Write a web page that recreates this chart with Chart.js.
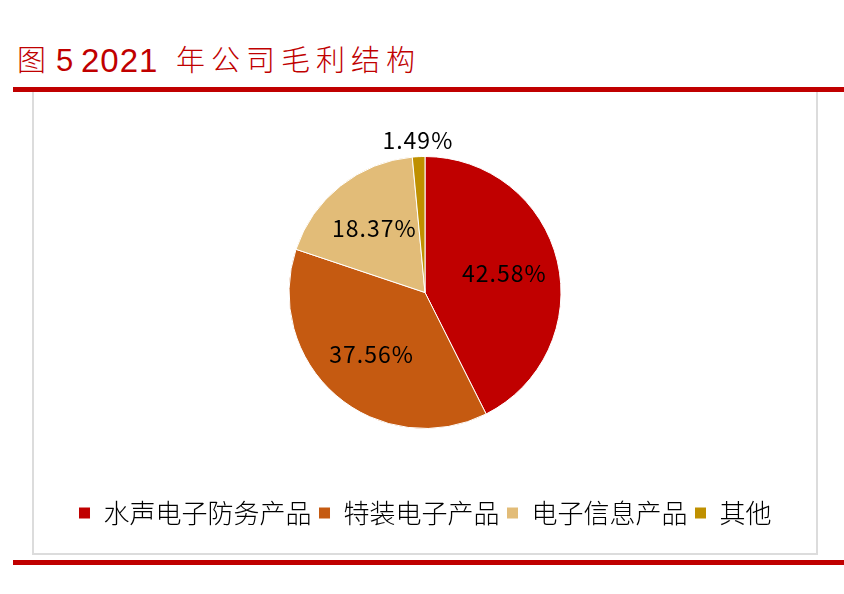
<!DOCTYPE html>
<html><head><meta charset="utf-8">
<script src="https://cdn.jsdelivr.net/npm/chart.js@4.4.0/dist/chart.umd.min.js"></script>
<style>
html,body{margin:0;padding:0;background:#fff;width:844px;height:594px;overflow:hidden;}
.t{position:absolute;color:#C00000;white-space:nowrap;line-height:1;}
#redTop{position:absolute;left:13px;top:87px;width:831px;height:5px;background:#C00000;}
#redBot{position:absolute;left:13px;top:560px;width:831px;height:5px;background:#C00000;}
#box{position:absolute;left:32px;top:92px;width:782px;height:461px;border:2px solid #dcdcdc;border-top:none;}
#wrap{position:absolute;left:34px;top:92px;width:782px;height:461px;}
</style></head>
<body>
<div class="t" style="left:17px;top:44px;font-family:'Noto Sans CJK SC';font-size:29px;font-weight:300;">图</div>
<div class="t" style="left:56px;top:45px;font-family:'Liberation Sans';font-size:31px;">5</div>
<div class="t" style="left:81px;top:44px;font-family:'Liberation Sans';font-size:33px;letter-spacing:1px;">2021</div>
<div class="t" style="left:176px;top:44px;font-family:'Noto Sans CJK SC';font-size:29px;font-weight:300;letter-spacing:6px;">年公司毛利结构</div>
<div id="redTop"></div>
<div id="box"></div>
<div id="redBot"></div>
<div id="wrap"><canvas id="c"></canvas></div>
<script>
const categories = ['水声电子防务产品','特装电子产品','电子信息产品','其他'];
const values = [42.58, 37.56, 18.37, 1.49];
const labels = ['42.58%','37.56%','18.37%','1.49%'];
const colors = ['#C00000','#C55A11','#E2BC78','#BF9000'];

const labelPlugin = {
  id:'sliceLabels',
  afterDatasetsDraw(chart){
    const ctx = chart.ctx;
    const meta = chart.getDatasetMeta(0);
    ctx.save();
    ctx.font = '23px "Noto Sans CJK SC"';
    ctx.fillStyle = '#000';
    ctx.textAlign = 'center';
    ctx.textBaseline = 'middle';
    try{ctx.letterSpacing='1px';}catch(e){}
    meta.data.forEach((arc,i)=>{
      const p = arc.getProps(['x','y','startAngle','endAngle','outerRadius'],true);
      const mid = (p.startAngle+p.endAngle)/2;
      const f = values[i] < 5 ? 1.12 : 0.6;
      const r = p.outerRadius*f;
      ctx.fillText(labels[i], p.x + Math.cos(mid)*r, p.y + Math.sin(mid)*r);
    });
    ctx.restore();
  }
};

new Chart(document.getElementById('c'),{
  type:'pie',
  data:{labels:categories,datasets:[{data:values,backgroundColor:colors,borderColor:'#ffffff',borderWidth:1}]},
  options:{
    responsive:true,maintainAspectRatio:false,animation:false,
    radius:136,
    layout:{padding:{top:0,bottom:17,left:0,right:0}},
    plugins:{
      tooltip:{enabled:false},
      legend:{position:'bottom',
        labels:{boxWidth:12,boxHeight:12,padding:7,color:'#000',
          font:{family:'"Noto Sans CJK SC"',size:26,weight:300}}}
    }
  },
  plugins:[labelPlugin]
});
</script>
</body></html>
